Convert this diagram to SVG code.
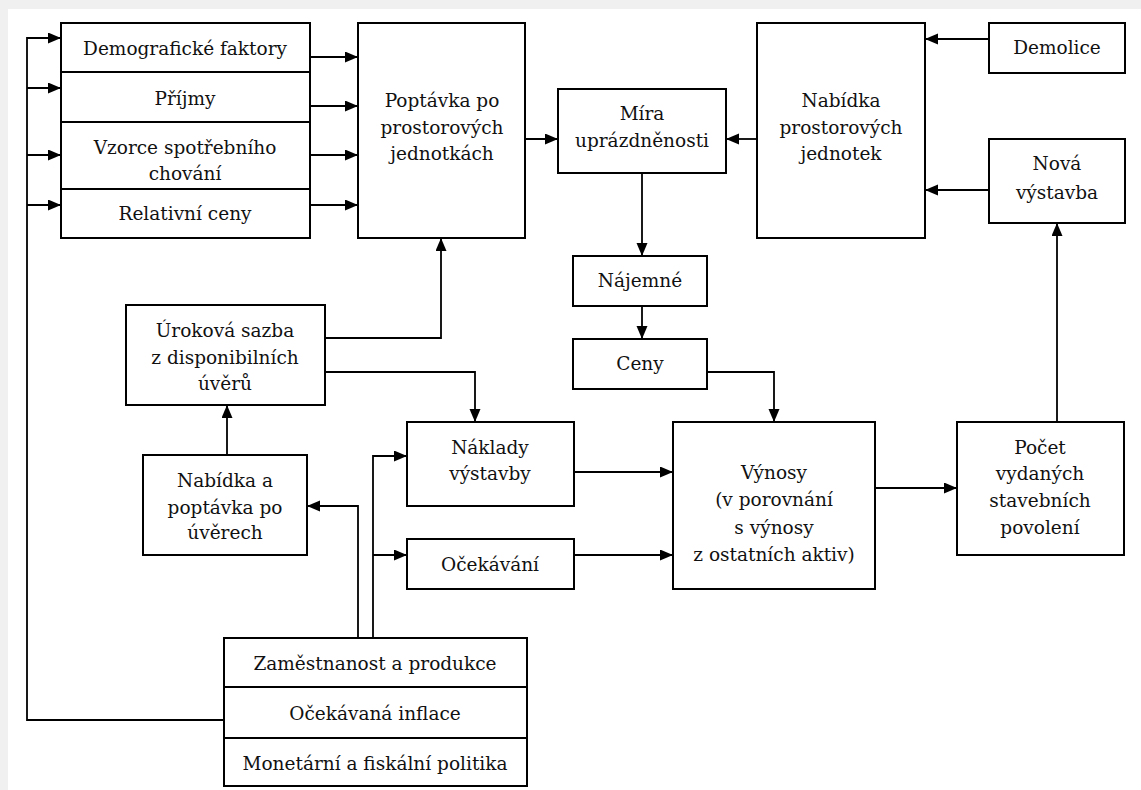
<svg xmlns="http://www.w3.org/2000/svg" width="1141" height="790" viewBox="0 0 1141 790">
<defs>
<marker id="ah" markerUnits="userSpaceOnUse" markerWidth="14" markerHeight="12" refX="13" refY="5.5" orient="auto"><path d="M0,0 L13,5.5 L0,11 z" fill="#000"/></marker>
<style>
.b{fill:#fff;stroke:#000;stroke-width:2}
.t{font-family:"DejaVu Serif","Liberation Serif",serif;font-size:18.5px;fill:#111;text-anchor:middle}
.c path{fill:none;stroke:#000;stroke-width:1.8;marker-end:url(#ah)}
</style>
</defs>
<rect width="1141" height="790" fill="#f0f0f0"/>
<rect x="8" y="9" width="1133" height="781" fill="#fff"/>

<g id="connectors" class="c">
<path d="M224,720 H27 V38 H61"/>
<path d="M27,88 H61"/>
<path d="M27,155 H61"/>
<path d="M27,205 H61"/>
<path d="M310,57 H358"/>
<path d="M310,106 H358"/>
<path d="M310,155 H358"/>
<path d="M310,205 H358"/>
<path d="M525,139 H558"/>
<path d="M757,139 H726"/>
<path d="M989,39 H925"/>
<path d="M989,190 H925"/>
<path d="M642,173 V256"/>
<path d="M642,306 V339"/>
<path d="M325,338 H441 V238"/>
<path d="M325,372 H475 V422"/>
<path d="M227,455 V405"/>
<path d="M358,638 V506 H307"/>
<path d="M373,638 V456 H407"/>
<path d="M373,555 H407"/>
<path d="M707,372 H774 V422"/>
<path d="M574,472 H673"/>
<path d="M574,555 H673"/>
<path d="M875,488 H957"/>
<path d="M1057,422 V223"/>
</g>

<g id="demograficke"><rect class="b" x="61" y="23" width="249" height="49"/><text class="t" x="185" y="55">Demografické faktory</text></g>
<g id="prijmy"><rect class="b" x="61" y="72" width="249" height="50"/><text class="t" x="185" y="105">Příjmy</text></g>
<g id="vzorce"><rect class="b" x="61" y="122" width="249" height="67"/><text class="t" x="185" y="154">Vzorce spotřebního</text><text class="t" x="185" y="180">chování</text></g>
<g id="relativni"><rect class="b" x="61" y="189" width="249" height="49"/><text class="t" x="185" y="220">Relativní ceny</text></g>

<g id="poptavka"><rect class="b" x="358" y="23" width="167" height="215"/><text class="t" x="442" y="107">Poptávka po</text><text class="t" x="442" y="134">prostorových</text><text class="t" x="442" y="160">jednotkách</text></g>

<g id="mira"><rect class="b" x="558" y="89" width="168" height="84"/><text class="t" x="642" y="120">Míra</text><text class="t" x="642" y="147">uprázdněnosti</text></g>

<g id="nabidka"><rect class="b" x="757" y="23" width="168" height="215"/><text class="t" x="841" y="107">Nabídka</text><text class="t" x="841" y="134">prostorových</text><text class="t" x="841" y="160">jednotek</text></g>

<g id="demolice"><rect class="b" x="989" y="23" width="136" height="50"/><text class="t" x="1057" y="54">Demolice</text></g>
<g id="nova"><rect class="b" x="989" y="139" width="136" height="84"/><text class="t" x="1057" y="170">Nová</text><text class="t" x="1057" y="199">výstavba</text></g>

<g id="najemne"><rect class="b" x="573" y="256" width="134" height="50"/><text class="t" x="640" y="287">Nájemné</text></g>
<g id="ceny"><rect class="b" x="573" y="339" width="134" height="50"/><text class="t" x="640" y="370">Ceny</text></g>

<g id="urokova"><rect class="b" x="126" y="305" width="199" height="100"/><text class="t" x="225" y="337">Úroková sazba</text><text class="t" x="225" y="364">z disponibilních</text><text class="t" x="225" y="390">úvěrů</text></g>

<g id="nabidka-uvery"><rect class="b" x="143" y="455" width="164" height="100"/><text class="t" x="225" y="487">Nabídka a</text><text class="t" x="225" y="514">poptávka po</text><text class="t" x="225" y="539">úvěrech</text></g>

<g id="naklady"><rect class="b" x="407" y="422" width="167" height="84"/><text class="t" x="490" y="454">Náklady</text><text class="t" x="490" y="480">výstavby</text></g>
<g id="ocekavani"><rect class="b" x="407" y="539" width="167" height="50"/><text class="t" x="490" y="571">Očekávání</text></g>

<g id="vynosy"><rect class="b" x="673" y="422" width="202" height="167"/><text class="t" x="774" y="479">Výnosy</text><text class="t" x="774" y="506">(v porovnání</text><text class="t" x="774" y="534">s výnosy</text><text class="t" x="774" y="561">z ostatních aktiv)</text></g>

<g id="pocet"><rect class="b" x="957" y="422" width="167" height="133"/><text class="t" x="1040" y="454">Počet</text><text class="t" x="1040" y="480">vydaných</text><text class="t" x="1040" y="507">stavebních</text><text class="t" x="1040" y="534">povolení</text></g>

<g id="makro">
<rect class="b" x="224" y="638" width="303" height="49"/><text class="t" x="375" y="670">Zaměstnanost a produkce</text>
<rect class="b" x="224" y="687" width="303" height="51"/><text class="t" x="375" y="720">Očekávaná inflace</text>
<rect class="b" x="224" y="738" width="303" height="48"/><text class="t" x="375" y="770">Monetární a fiskální politika</text>
</g>
</svg>
